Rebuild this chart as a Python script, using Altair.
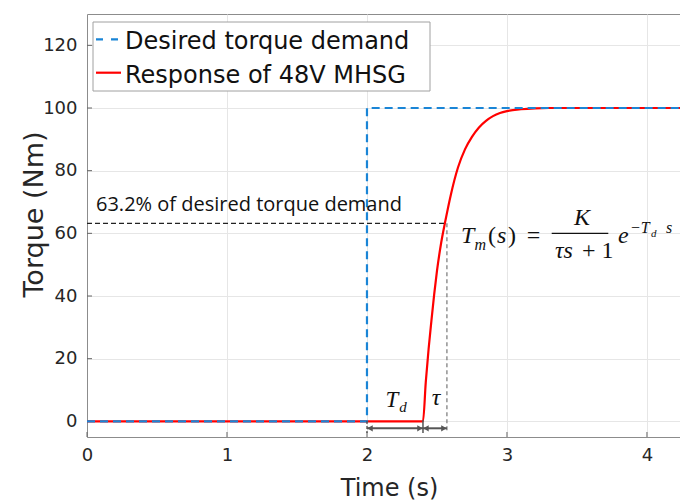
import altair as alt
import pandas as pd

# ---- data -------------------------------------------------------------
SERIES = ["Desired torque demand", "Response of 48V MHSG"]

# step demand issued at t = 2 s
DEMAND_T = [0.0, 2.0, 2.0, 4.24]
DEMAND_V = [0.0, 0.0, 100.0, 100.0]

# measured torque response (dead time, then first-order rise)
RESP_T = [0.0, 2.0, 2.4, 2.42, 2.44, 2.46, 2.48, 2.50, 2.53, 2.56, 2.60, 2.65,
          2.70, 2.75, 2.80, 2.85, 2.90, 2.95, 3.00, 3.10, 3.20, 3.30, 4.24]
RESP_V = [0.0, 0.0, 0.0, 12.5, 23.0, 32.0, 40.5, 48.0, 57.0, 64.0, 72.5, 81.0,
          86.8, 90.8, 93.8, 95.9, 97.4, 98.4, 99.0, 99.6, 99.9, 100.0, 100.0]

STEP_T = 2.0         # demand instant
DELAY_END = 2.4      # end of dead time T_d
TAU_END = 2.571      # dead time + time constant tau
LEVEL = 63.2         # 63.2 % of demand

X_TICKS = [0, 1, 2, 3, 4]
Y_TICKS = [0, 20, 40, 60, 80, 100, 120]
X_DOMAIN = [0, 4.236]
Y_DOMAIN = [-5, 130]

# ---- styling ----------------------------------------------------------
W, H = 593, 423
BLUE = "#1a85d6"
RED = "#ff0000"
AX = "#8c8c8c"
TXT = "#262626"
SANS = "DejaVu Sans"
SERIF = "Liberation Serif"
ONE = alt.Data(values=[{}])

xs = alt.Scale(domain=X_DOMAIN, nice=False, zero=False)
ys = alt.Scale(domain=Y_DOMAIN, nice=False, zero=False)
xaxis = alt.Axis(values=X_TICKS, format="d", title="Time (s)", grid=True,
                 tickSize=0, labelPadding=9, labelFlush=False, titleX=302, titleY=58,
                 titleAlign="center", titleBaseline="alphabetic")
yaxis = alt.Axis(values=Y_TICKS, format="d", title="Torque (Nm)", grid=True,
                 tickSize=0, labelPadding=10, titleAngle=270, titleX=-45,
                 titleY=200, titleAlign="center", titleBaseline="alphabetic",
                 titleFontSize=27)


def X(field="t"):
    return alt.X(f"{field}:Q", scale=xs, axis=xaxis)


def Y(field="v"):
    return alt.Y(f"{field}:Q", scale=ys, axis=yaxis)


def label(txt, px, py, size=24, style="italic", font=SERIF, align="left"):
    return alt.Chart(ONE).mark_text(
        text=txt, font=font, fontSize=size, fontStyle=style, align=align,
        baseline="alphabetic", color="#111111"
    ).encode(x=alt.value(px), y=alt.value(py))


demand = pd.DataFrame({"t": DEMAND_T, "v": DEMAND_V})
resp = pd.DataFrame({"t": RESP_T, "v": RESP_V})

# inward tick marks
xticks = alt.Chart(pd.DataFrame({"t": X_TICKS})).mark_rule(color="#666", strokeWidth=1).encode(
    x=X(), y=alt.value(H), y2=alt.value(H - 5))
yticks = alt.Chart(pd.DataFrame({"v": Y_TICKS})).mark_rule(color="#666", strokeWidth=1).encode(
    y=Y(), x=alt.value(0), x2=alt.value(5))

# series
resp_line = alt.Chart(resp).mark_line(color=RED, strokeWidth=2.2, interpolate="monotone",
                                      clip=True).encode(x=X(), y=Y())
demand_line = alt.Chart(demand).mark_line(color=BLUE, strokeWidth=2.2, strokeDash=[8, 5],
                                          clip=True).encode(x=X(), y=Y())

# 63.2 % guide lines
hline = alt.Chart(pd.DataFrame({"t": [0.0], "t2": [TAU_END], "v": [LEVEL]})).mark_rule(
    color="#222", strokeWidth=1.2, strokeDash=[5, 3]).encode(x=X(), x2="t2:Q", y=Y())
vline_tau = alt.Chart(pd.DataFrame({"t": [TAU_END], "v": [LEVEL]})).mark_rule(
    color="#777", strokeWidth=1.2, strokeDash=[4, 3]).encode(x=X(), y=Y(), y2=alt.value(419))
vline_step = alt.Chart(pd.DataFrame({"t": [STEP_T]})).mark_rule(
    color="#444", strokeWidth=1.2, strokeDash=[3, 2]).encode(x=X(), y=alt.value(407), y2=alt.value(419))
vline_delay = alt.Chart(pd.DataFrame({"t": [DELAY_END]})).mark_rule(
    color="#555", strokeWidth=1.5).encode(x=X(), y=alt.value(406), y2=alt.value(419))

# dimension arrows for T_d and tau
ARROW_Y = 414.3
seg = pd.DataFrame({"t": [STEP_T, DELAY_END], "t2": [DELAY_END, TAU_END]})
arrows = alt.Chart(seg).mark_rule(color="#555", strokeWidth=2).encode(
    x=X(), x2="t2:Q", y=alt.value(ARROW_Y))
heads_l = alt.Chart(pd.DataFrame({"t": [STEP_T, DELAY_END]})).mark_point(
    shape="triangle-left", filled=True, size=40, color="#555", opacity=1, xOffset=3).encode(
    x=X(), y=alt.value(ARROW_Y))
heads_r = alt.Chart(pd.DataFrame({"t": [DELAY_END, TAU_END]})).mark_point(
    shape="triangle-right", filled=True, size=40, color="#555", opacity=1, xOffset=-3).encode(
    x=X(), y=alt.value(ARROW_Y))

mid = pd.DataFrame({"t": [(STEP_T + DELAY_END) / 2]})
td_T = alt.Chart(mid).mark_text(text="T", font=SERIF, fontSize=23, fontStyle="italic",
                                align="center", baseline="alphabetic", dx=-3, color="#111").encode(
    x=X(), y=alt.value(392.7))
td_d = alt.Chart(mid).mark_text(text="d", font=SERIF, fontSize=15, fontStyle="italic",
                                align="center", baseline="alphabetic", dx=8, color="#111").encode(
    x=X(), y=alt.value(397.5))
tau_lbl = alt.Chart(pd.DataFrame({"t": [(DELAY_END + TAU_END) / 2]})).mark_text(
    text="τ", font=SERIF, fontSize=24, fontStyle="italic", align="center",
    baseline="alphabetic", dx=1, color="#111").encode(x=X(), y=alt.value(391))

level_txt = alt.Chart(pd.DataFrame({"t": [0.0], "v": [LEVEL]})).mark_text(
    text=f"{LEVEL}% of desired torque demand", font="Open Sans", fontSize=20,
    align="left", baseline="alphabetic", dx=9, dy=-12, color="#111").encode(x=X(), y=Y())

# transfer function  T_m(s) = K / (tau s + 1) * e^(-T_d s)
formula = [
    label("T", 374, 229.3),
    label("m", 387.5, 236, size=16),
    label("(", 401, 229.3, style="normal"),
    label("s", 410, 229.3),
    label(")", 421, 229.3, style="normal"),
    label("=", 446.5, 229.3, style="normal", align="center"),
    label("K", 495, 211, align="center"),
    label("τs", 468, 244.3),
    label("+ 1", 495, 244.3, style="normal"),
    label("e", 531, 229.3),
    label("−T", 543, 219, size=16),
    label("d", 564, 222.7, size=11),
    label("s", 579, 219, size=16),
    alt.Chart(ONE).mark_rule(color="#111", strokeWidth=1.2).encode(
        x=alt.value(464.7), x2=alt.value(521.3), y=alt.value(219.3)),
]

# legend box
legend = [
    alt.Chart(ONE).mark_rect(fill="white", stroke="#a0a0a0", strokeWidth=1).encode(
        x=alt.value(6), x2=alt.value(343), y=alt.value(8), y2=alt.value(77)),
    alt.Chart(ONE).mark_rule(color=BLUE, strokeWidth=2.2, strokeDash=[7, 8]).encode(
        x=alt.value(9), x2=alt.value(34), y=alt.value(25.3)),
    alt.Chart(ONE).mark_rule(color=RED, strokeWidth=2.2).encode(
        x=alt.value(9), x2=alt.value(34), y=alt.value(58.7)),
    label(SERIES[0], 38, 35, size=24, style="normal", font=SANS),
    label(SERIES[1], 38, 68.7, size=24, style="normal", font=SANS),
]

chart = alt.layer(
    xticks, yticks, resp_line, demand_line, hline, vline_tau, vline_step, vline_delay,
    arrows, heads_l, heads_r, td_T, td_d, tau_lbl, level_txt, *formula, *legend
).properties(
    width=W, height=H,
    autosize=alt.AutoSizeParams(type="none"),
    padding={"left": 87, "top": 14, "right": 0, "bottom": 65},
    background="white",
).configure_view(
    stroke=AX, strokeWidth=1
).configure_axis(
    labelFont=SANS, labelFontSize=18, labelColor=TXT,
    titleFont=SANS, titleFontSize=24, titleFontWeight="normal", titleColor=TXT,
    domainColor=AX, domainWidth=1, gridColor="#e6e6e6", gridWidth=1,
)

chart.save("out.html", embed_options={"renderer": "svg", "actions": False})
